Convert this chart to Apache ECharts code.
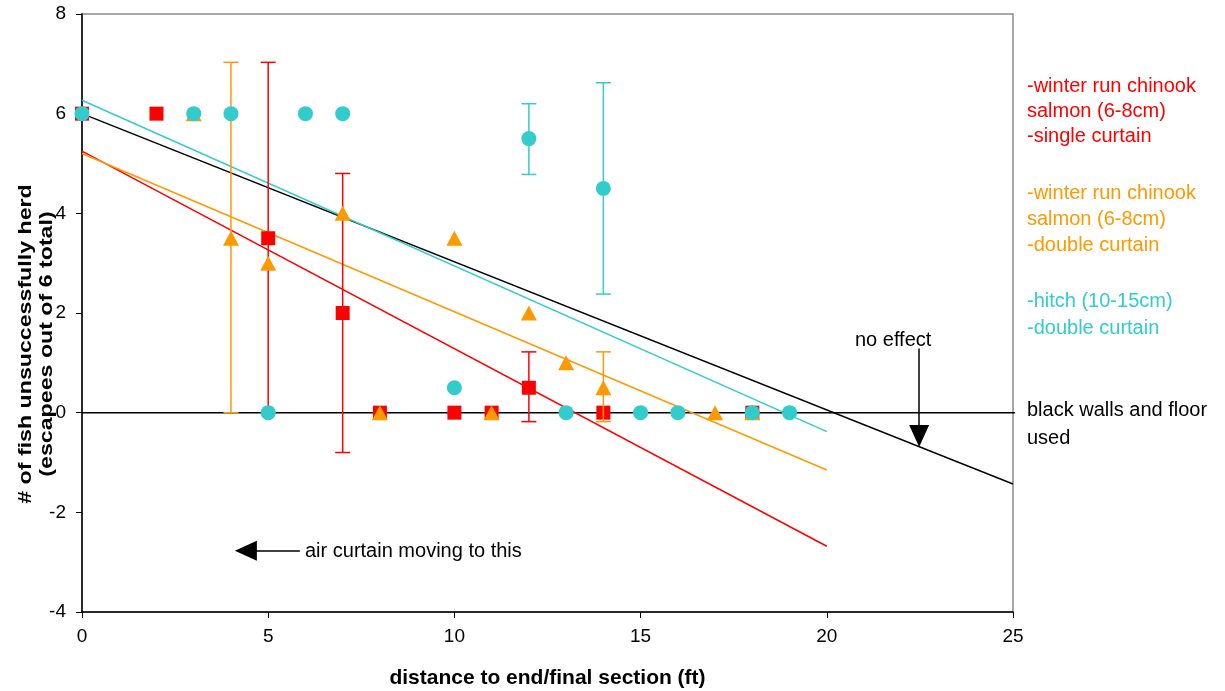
<!DOCTYPE html>
<html>
<head>
<meta charset="utf-8">
<script src="https://cdn.jsdelivr.net/npm/echarts@6/dist/echarts.min.js"></script>
<style>
  html, body { margin: 0; padding: 0; background: #fff; }
  #main { width: 1225px; height: 691px; }
</style>
</head>
<body>
<div id="main"></div>
<script>
// single curtain, winter run chinook (red squares)
var redX = [0, 2, 5, 7, 8, 10, 11, 12, 14, 18];
var redY = [6, 6, 3.5, 2, 0, 0, 0, 0.5, 0, 0];
var redErrX = [5, 7, 12];
var redErrLo = [0, -0.8, -0.18];
var redErrHi = [7.03, 4.8, 1.22];

// double curtain, winter run chinook (orange triangles)
var orangeX = [3, 4, 5, 7, 8, 10, 11, 12, 13, 14, 17, 18];
var orangeY = [6, 3.5, 3, 4, 0, 3.5, 0, 2, 1, 0.5, 0, 0];
var orangeErrX = [4, 14];
var orangeErrLo = [0, -0.18];
var orangeErrHi = [7.03, 1.22];

// double curtain, hitch (cyan circles)
var cyanX = [0, 3, 4, 5, 6, 7, 10, 12, 13, 14, 15, 16, 18, 19];
var cyanY = [6, 6, 6, 0, 6, 6, 0.5, 5.5, 0, 4.5, 0, 0, 0, 0];
var cyanErrX = [12, 14];
var cyanErrLo = [4.78, 2.38];
var cyanErrHi = [6.2, 6.62];

// trend lines (end points)
var redTrend = [[0, 5.25], [20, -2.68]];
var orangeTrend = [[0, 5.2], [20, -1.15]];
var cyanTrend = [[0, 6.27], [20, -0.38]];
var blackTrend = [[0, 6], [25, -1.43]];
var zeroLine = [[0, 0], [25.25, 0]];

// annotation arrows (data units)
var noEffectArrow = [[22.48, 1.29], [22.48, -0.47]];
var airArrow = [[5.85, -2.77], [4.4, -2.77]];

var xTicks = { min: 0, max: 25, interval: 5 };
var yTicks = { min: -4, max: 8, interval: 2 };

var RED = '#ff0000', ORANGE = '#ff9900', CYAN = '#33cccc';
var FONT = "'Liberation Sans', Arial, sans-serif";

function zip(xs, ys) {
     var out = [];
     for (var i = 0; i < xs.length; i++) out.push([xs[i], ys[i]]);
     return out;
}
function zip3(xs, lo, hi) {
     var out = [];
     for (var i = 0; i < xs.length; i++) out.push([xs[i], lo[i], hi[i]]);
     return out;
}

function errRender(color) {
     return function (params, api) {
          var x = api.value(0);
          var top = api.coord([x, api.value(2)]);
          var bot = api.coord([x, api.value(1)]);
          var w = 7.5;
          var st = { stroke: color, lineWidth: 1.5 };
          return {
               type: 'group',
               children: [
                    { type: 'line', shape: { x1: top[0], y1: top[1], x2: bot[0], y2: bot[1] }, style: st },
                    { type: 'line', shape: { x1: top[0] - w, y1: top[1], x2: top[0] + w, y2: top[1] }, style: st },
                    { type: 'line', shape: { x1: bot[0] - w, y1: bot[1], x2: bot[0] + w, y2: bot[1] }, style: st }
               ]
          };
     };
}

function trend(data, color, z) {
     return {
          type: 'line',
          data: data,
          symbol: 'none',
          silent: true,
          clip: false,
          z: z,
          lineStyle: { color: color, width: 1.5 }
     };
}

function errSeries(xs, lo, hi, color, z) {
     return {
          type: 'custom',
          data: zip3(xs, lo, hi),
          encode: { x: 0, y: [1, 2] },
          renderItem: errRender(color),
          z: z,
          silent: true
     };
}

var chart = echarts.init(document.getElementById('main'));

chart.setOption({
     animation: false,
     textStyle: { fontFamily: FONT },
     grid: {
          left: 82,
          right: 212,
          top: 14,
          bottom: 79,
          outerBoundsMode: 'none',
          containLabel: false,
          show: true,
          borderColor: '#8c8c8c',
          borderWidth: 1.5,
          backgroundColor: '#fff'
     },
     xAxis: {
          type: 'value',
          min: xTicks.min,
          max: xTicks.max,
          interval: xTicks.interval,
          name: 'distance to end/final section (ft)',
          nameLocation: 'middle',
          nameGap: 56,
          nameTextStyle: { fontSize: 21, fontWeight: 'bold', color: '#000', fontFamily: FONT },
          axisLine: { onZero: false, lineStyle: { color: '#000', width: 1.5 } },
          axisTick: { show: true, length: 6, lineStyle: { color: '#000' } },
          axisLabel: { fontSize: 19, color: '#000', margin: 15, fontFamily: FONT },
          splitLine: { show: false }
     },
     yAxis: {
          type: 'value',
          min: yTicks.min,
          max: yTicks.max,
          interval: yTicks.interval,
          axisLine: { show: true, onZero: false, lineStyle: { color: '#000', width: 1.5 } },
          axisTick: { show: true, length: 6, lineStyle: { color: '#000' } },
          axisLabel: { fontSize: 19, color: '#000', margin: 16, fontFamily: FONT },
          splitLine: { show: false }
     },
     graphic: [
          {
               type: 'text',
               x: 36,
               y: 344,
               rotation: Math.PI / 2,
               scaleX: 1.22,
               style: {
                    text: '# of fish unsuccessfully herd\n(escapees out of 6 total)',
                    font: 'bold 19px ' + FONT,
                    fill: '#000',
                    align: 'center',
                    verticalAlign: 'middle',
                    lineHeight: 21
               }
          },
          {
               type: 'text', left: 1027, top: 74,
               style: { text: '-winter run chinook\nsalmon (6-8cm)\n-single curtain', font: '20px ' + FONT, fill: RED, lineHeight: 25 }
          },
          {
               type: 'text', left: 1027, top: 180,
               style: { text: '-winter run chinook\nsalmon (6-8cm)\n-double curtain', font: '20px ' + FONT, fill: ORANGE, lineHeight: 26 }
          },
          {
               type: 'text', left: 1027, top: 288,
               style: { text: '-hitch (10-15cm)\n-double curtain', font: '20px ' + FONT, fill: CYAN, lineHeight: 27 }
          },
          {
               type: 'text', left: 1027, top: 396,
               style: { text: 'black walls and floor\nused', font: '20px ' + FONT, fill: '#000', lineHeight: 28 }
          },
          {
               type: 'text', left: 855, top: 330,
               style: { text: 'no effect', font: '20px ' + FONT, fill: '#000' }
          },
          {
               type: 'text', left: 305, top: 541,
               style: { text: 'air curtain moving to this', font: '20px ' + FONT, fill: '#000' }
          }
     ],
     series: [
          trend(zeroLine, '#000', 1),
          trend(blackTrend, '#000', 1),
          trend(redTrend, RED, 1),
          trend(orangeTrend, ORANGE, 1),
          trend(cyanTrend, CYAN, 1),
          {
               type: 'line',
               data: [],
               z: 2,
               markLine: {
                    silent: true,
                    symbol: ['none', 'triangle'],
                    symbolSize: [20, 22],
                    label: { show: false },
                    lineStyle: { color: '#000', width: 1.5, type: 'solid' },
                    data: [
                         [{ coord: noEffectArrow[0] }, { coord: noEffectArrow[1] }],
                         [{ coord: airArrow[0] }, { coord: airArrow[1] }]
                    ]
               }
          },
          errSeries(redErrX, redErrLo, redErrHi, RED, 3),
          {
               type: 'scatter',
               data: zip(redX, redY),
               symbol: 'rect',
               symbolSize: 14,
               z: 4,
               itemStyle: { color: RED, opacity: 1 }
          },
          errSeries(orangeErrX, orangeErrLo, orangeErrHi, ORANGE, 5),
          {
               type: 'scatter',
               data: zip(orangeX, orangeY),
               symbol: 'triangle',
               symbolSize: [16, 15],
               z: 6,
               itemStyle: { color: ORANGE, opacity: 1 }
          },
          errSeries(cyanErrX, cyanErrLo, cyanErrHi, CYAN, 7),
          {
               type: 'scatter',
               data: zip(cyanX, cyanY),
               symbol: 'circle',
               symbolSize: 15,
               z: 8,
               itemStyle: { color: CYAN, opacity: 1 }
          }
     ]
});
</script>
</body>
</html>
